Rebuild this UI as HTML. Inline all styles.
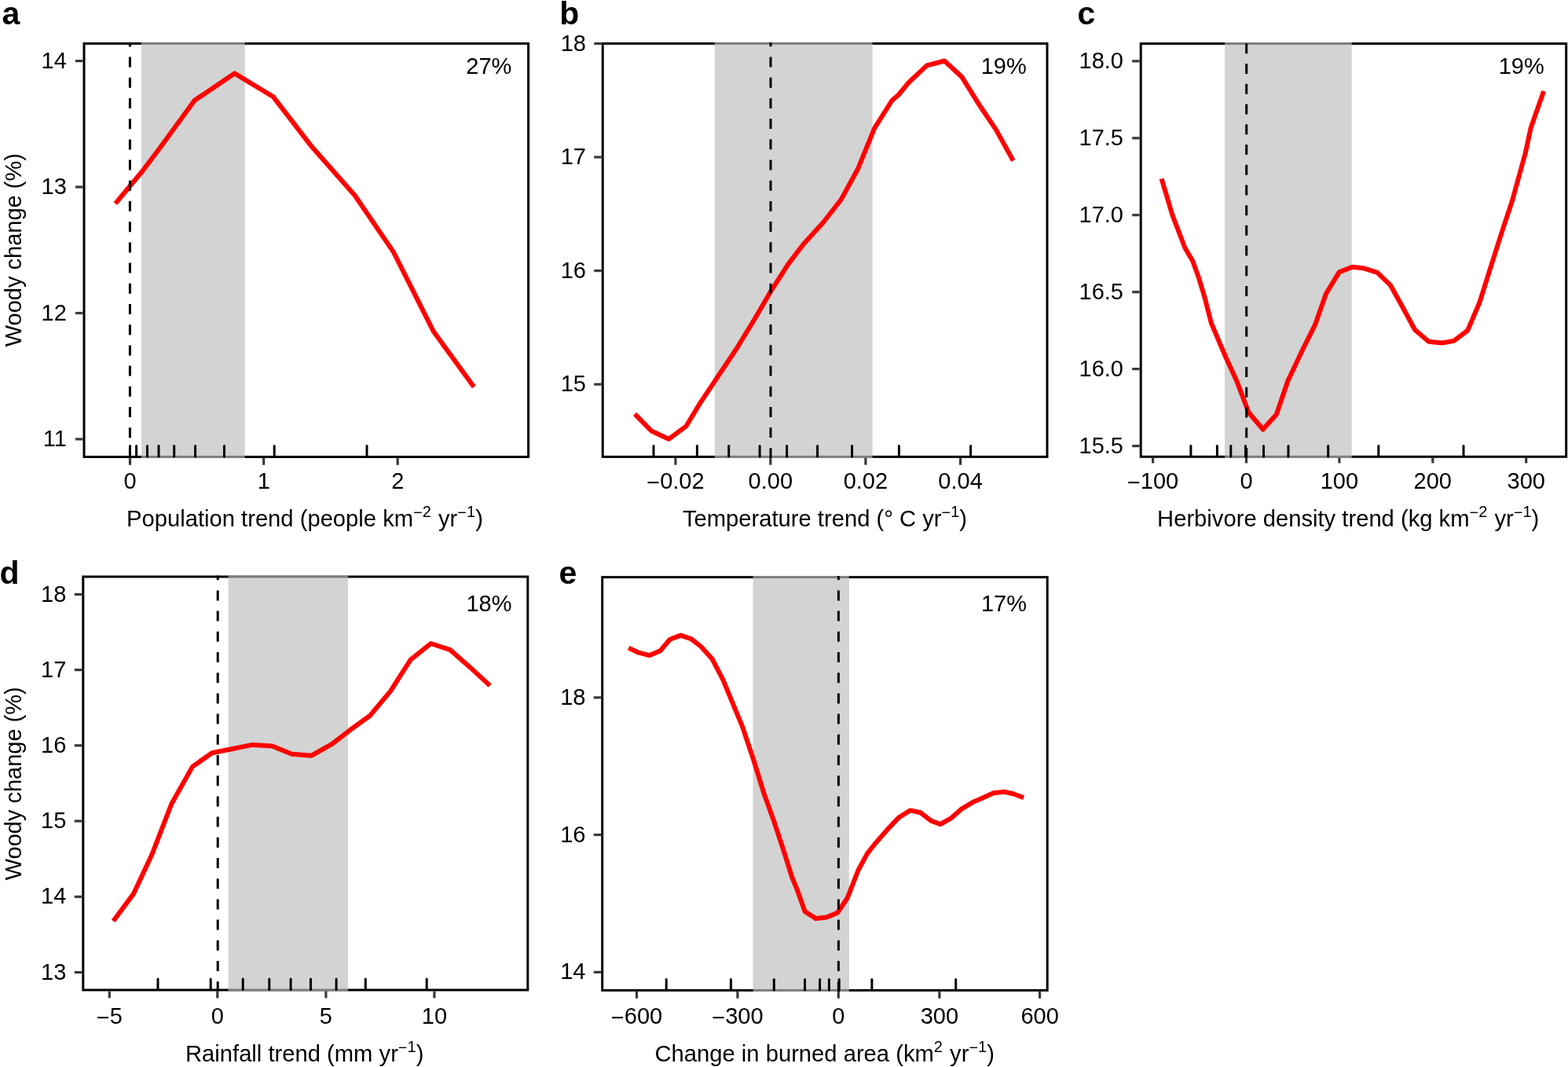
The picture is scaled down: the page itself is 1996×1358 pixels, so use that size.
<!DOCTYPE html><html><head><meta charset="utf-8"><style>html,body{margin:0;padding:0;background:#fff;overflow:hidden;}svg{display:block;}text{font-family:"Liberation Sans",Arial,Helvetica,sans-serif;fill:#000;}</style></head><body>
<svg width="1996" height="1358" viewBox="0 0 1996 1358">
<rect x="0" y="0" width="1996" height="1358" fill="#fff"/>
<g><rect x="107" y="55.4" width="565.6" height="526.1" fill="none" stroke="#000" stroke-width="3"/><rect x="180" y="53.8" width="131.8" height="529.3" fill="rgb(189,189,189)" fill-opacity="0.67"/><line x1="96" y1="77.6" x2="105.5" y2="77.6" stroke="#383838" stroke-width="3.2"/><text x="84.8" y="86.6" font-size="29" text-anchor="end">14</text><line x1="96" y1="238" x2="105.5" y2="238" stroke="#383838" stroke-width="3.2"/><text x="84.8" y="247" font-size="29" text-anchor="end">13</text><line x1="96" y1="398.5" x2="105.5" y2="398.5" stroke="#383838" stroke-width="3.2"/><text x="84.8" y="407.5" font-size="29" text-anchor="end">12</text><line x1="96" y1="558.9" x2="105.5" y2="558.9" stroke="#383838" stroke-width="3.2"/><text x="84.8" y="567.9" font-size="29" text-anchor="end">11</text><line x1="165.5" y1="583" x2="165.5" y2="591.8" stroke="#383838" stroke-width="3.2"/><text x="165.5" y="621.6" font-size="29" text-anchor="middle">0</text><line x1="335.7" y1="583" x2="335.7" y2="591.8" stroke="#383838" stroke-width="3.2"/><text x="335.7" y="621.6" font-size="29" text-anchor="middle">1</text><line x1="506.2" y1="583" x2="506.2" y2="591.8" stroke="#383838" stroke-width="3.2"/><text x="506.2" y="621.6" font-size="29" text-anchor="middle">2</text><polyline points="146.9,259.1 181.5,217.5 203,189 247.7,127.8 298.5,93.4 348,123.3 395.4,184.9 451.7,248.8 500.8,320.6 551.6,421.4 603.3,492.6" fill="none" stroke="#ff0000" stroke-width="6" stroke-linejoin="round" stroke-linecap="butt"/><line x1="165.4" y1="53.9" x2="165.4" y2="583" stroke="#000" stroke-width="3" stroke-linecap="butt" stroke-dasharray="13 13.2" stroke-dashoffset="7.5"/><line x1="165.5" y1="567.6" x2="165.5" y2="581.1" stroke="#000" stroke-width="3" stroke-linecap="round"/><line x1="173.6" y1="567.6" x2="173.6" y2="581.1" stroke="#000" stroke-width="3" stroke-linecap="round"/><line x1="187.5" y1="567.6" x2="187.5" y2="581.1" stroke="#000" stroke-width="3" stroke-linecap="round"/><line x1="202" y1="567.6" x2="202" y2="581.1" stroke="#000" stroke-width="3" stroke-linecap="round"/><line x1="221.7" y1="567.6" x2="221.7" y2="581.1" stroke="#000" stroke-width="3" stroke-linecap="round"/><line x1="248.6" y1="567.6" x2="248.6" y2="581.1" stroke="#000" stroke-width="3" stroke-linecap="round"/><line x1="285.5" y1="567.6" x2="285.5" y2="581.1" stroke="#000" stroke-width="3" stroke-linecap="round"/><line x1="349.2" y1="567.6" x2="349.2" y2="581.1" stroke="#000" stroke-width="3" stroke-linecap="round"/><line x1="467" y1="567.6" x2="467" y2="581.1" stroke="#000" stroke-width="3" stroke-linecap="round"/><text x="651.4" y="93.6" font-size="29" text-anchor="end">27%</text><text x="2.4" y="30.8" font-size="41" font-weight="bold">a</text><text x="161" y="670" font-size="29.2"><tspan>Population trend (people km</tspan><tspan font-size="20" dy="-11">−</tspan><tspan font-size="20" dy="-1">2</tspan><tspan dy="12" dx="1"> yr</tspan><tspan font-size="20" dy="-11">−</tspan><tspan font-size="20" dy="-1">1</tspan><tspan dy="12" dx="0">)</tspan></text><text transform="translate(26.6,318.2) rotate(-90)" font-size="29" text-anchor="middle">Woody change (%)</text></g>
<g><rect x="767.2" y="55.4" width="565.8" height="526" fill="none" stroke="#000" stroke-width="3"/><rect x="909.8" y="53.8" width="200.8" height="529.2" fill="rgb(189,189,189)" fill-opacity="0.67"/><line x1="756.2" y1="55.5" x2="765.7" y2="55.5" stroke="#383838" stroke-width="3.2"/><text x="746" y="64.5" font-size="29" text-anchor="end">18</text><line x1="756.2" y1="200" x2="765.7" y2="200" stroke="#383838" stroke-width="3.2"/><text x="746" y="209" font-size="29" text-anchor="end">17</text><line x1="756.2" y1="344.6" x2="765.7" y2="344.6" stroke="#383838" stroke-width="3.2"/><text x="746" y="353.6" font-size="29" text-anchor="end">16</text><line x1="756.2" y1="489.1" x2="765.7" y2="489.1" stroke="#383838" stroke-width="3.2"/><text x="746" y="498.1" font-size="29" text-anchor="end">15</text><line x1="859.9" y1="582.9" x2="859.9" y2="591.7" stroke="#383838" stroke-width="3.2"/><text x="859.9" y="621.8" font-size="29" text-anchor="middle"><tspan dy="2.3">−</tspan><tspan dy="-2.3">0.02</tspan></text><line x1="980.8" y1="582.9" x2="980.8" y2="591.7" stroke="#383838" stroke-width="3.2"/><text x="980.8" y="621.8" font-size="29" text-anchor="middle">0.00</text><line x1="1101.9" y1="582.9" x2="1101.9" y2="591.7" stroke="#383838" stroke-width="3.2"/><text x="1101.9" y="621.8" font-size="29" text-anchor="middle">0.02</text><line x1="1222.6" y1="582.9" x2="1222.6" y2="591.7" stroke="#383838" stroke-width="3.2"/><text x="1222.6" y="621.8" font-size="29" text-anchor="middle">0.04</text><polyline points="808.1,526.8 829.2,548.5 851.2,558.8 873.5,542.3 891,513.4 913.7,479.4 938.5,442.3 961.1,405.2 979.7,373.2 1003.4,336.1 1023,310.5 1048,283 1070.6,254.1 1091.9,215.3 1113.2,163.1 1135.4,128 1144,120.5 1156,105.8 1179.8,83.4 1202.3,77.5 1224.2,97.7 1247.1,134.3 1267.9,165.1 1289.8,204.5" fill="none" stroke="#ff0000" stroke-width="6" stroke-linejoin="round" stroke-linecap="butt"/><line x1="981" y1="53.9" x2="981" y2="582.9" stroke="#000" stroke-width="3" stroke-linecap="butt" stroke-dasharray="13 13.2" stroke-dashoffset="7.6"/><line x1="832" y1="567.5" x2="832" y2="581" stroke="#000" stroke-width="3" stroke-linecap="round"/><line x1="887.4" y1="567.5" x2="887.4" y2="581" stroke="#000" stroke-width="3" stroke-linecap="round"/><line x1="927.7" y1="567.5" x2="927.7" y2="581" stroke="#000" stroke-width="3" stroke-linecap="round"/><line x1="967.1" y1="567.5" x2="967.1" y2="581" stroke="#000" stroke-width="3" stroke-linecap="round"/><line x1="1001.6" y1="567.5" x2="1001.6" y2="581" stroke="#000" stroke-width="3" stroke-linecap="round"/><line x1="1040.6" y1="567.5" x2="1040.6" y2="581" stroke="#000" stroke-width="3" stroke-linecap="round"/><line x1="1084.6" y1="567.5" x2="1084.6" y2="581" stroke="#000" stroke-width="3" stroke-linecap="round"/><line x1="1144.4" y1="567.5" x2="1144.4" y2="581" stroke="#000" stroke-width="3" stroke-linecap="round"/><line x1="1235.6" y1="567.5" x2="1235.6" y2="581" stroke="#000" stroke-width="3" stroke-linecap="round"/><text x="1306.7" y="93.6" font-size="29" text-anchor="end">19%</text><text x="712.2" y="31.1" font-size="41" font-weight="bold">b</text><text x="868.9" y="670" font-size="29.2"><tspan>Temperature trend (° C yr</tspan><tspan font-size="20" dy="-11">−</tspan><tspan font-size="20" dy="-1">1</tspan><tspan dy="12" dx="0">)</tspan></text></g>
<g><rect x="1452.2" y="55.5" width="541.5" height="525.8" fill="none" stroke="#000" stroke-width="3"/><rect x="1559" y="53.9" width="161.7" height="529" fill="rgb(189,189,189)" fill-opacity="0.67"/><line x1="1441.2" y1="77.8" x2="1450.7" y2="77.8" stroke="#383838" stroke-width="3.2"/><text x="1430" y="86.8" font-size="29" text-anchor="end">18.0</text><line x1="1441.2" y1="175.8" x2="1450.7" y2="175.8" stroke="#383838" stroke-width="3.2"/><text x="1430" y="184.8" font-size="29" text-anchor="end">17.5</text><line x1="1441.2" y1="273.7" x2="1450.7" y2="273.7" stroke="#383838" stroke-width="3.2"/><text x="1430" y="282.7" font-size="29" text-anchor="end">17.0</text><line x1="1441.2" y1="371.7" x2="1450.7" y2="371.7" stroke="#383838" stroke-width="3.2"/><text x="1430" y="380.7" font-size="29" text-anchor="end">16.5</text><line x1="1441.2" y1="469.6" x2="1450.7" y2="469.6" stroke="#383838" stroke-width="3.2"/><text x="1430" y="478.6" font-size="29" text-anchor="end">16.0</text><line x1="1441.2" y1="567.6" x2="1450.7" y2="567.6" stroke="#383838" stroke-width="3.2"/><text x="1430" y="576.6" font-size="29" text-anchor="end">15.5</text><line x1="1467.6" y1="582.8" x2="1467.6" y2="589.5" stroke="#383838" stroke-width="3.2"/><text x="1467.6" y="621.8" font-size="29" text-anchor="middle"><tspan dy="2.3">−</tspan><tspan dy="-2.3">100</tspan></text><line x1="1586.5" y1="582.8" x2="1586.5" y2="589.5" stroke="#383838" stroke-width="3.2"/><text x="1586.5" y="621.8" font-size="29" text-anchor="middle">0</text><line x1="1704.9" y1="582.8" x2="1704.9" y2="589.5" stroke="#383838" stroke-width="3.2"/><text x="1704.9" y="621.8" font-size="29" text-anchor="middle">100</text><line x1="1823.8" y1="582.8" x2="1823.8" y2="589.5" stroke="#383838" stroke-width="3.2"/><text x="1823.8" y="621.8" font-size="29" text-anchor="middle">200</text><line x1="1942.7" y1="582.8" x2="1942.7" y2="589.5" stroke="#383838" stroke-width="3.2"/><text x="1942.7" y="621.8" font-size="29" text-anchor="middle">300</text><polyline points="1478.6,227.5 1492.5,274 1508.3,315.2 1518.4,332.5 1526.1,354 1533.1,377 1542,411.5 1560.5,455 1574.2,484.8 1589.5,525 1607.7,546.5 1624.8,527.5 1639.5,484.5 1658.1,445.2 1674,413.4 1688,373.8 1704.7,346.4 1721.5,339.8 1736.6,341.6 1753.3,346.9 1770.1,363.2 1784.3,388.8 1801.1,419.7 1818.7,434.7 1835.5,436.5 1850.6,433.9 1868.2,420.6 1883.3,385.3 1899.2,334.9 1913.3,290.7 1924.8,256.2 1941.9,194.3 1948.5,163.3 1965.1,115.9" fill="none" stroke="#ff0000" stroke-width="6" stroke-linejoin="round" stroke-linecap="butt"/><line x1="1586.7" y1="54" x2="1586.7" y2="582.8" stroke="#000" stroke-width="3" stroke-linecap="butt" stroke-dasharray="13 12.73" stroke-dashoffset="24.43"/><line x1="1515.9" y1="567.4" x2="1515.9" y2="580.9" stroke="#000" stroke-width="3" stroke-linecap="round"/><line x1="1549.4" y1="567.4" x2="1549.4" y2="580.9" stroke="#000" stroke-width="3" stroke-linecap="round"/><line x1="1566.8" y1="567.4" x2="1566.8" y2="580.9" stroke="#000" stroke-width="3" stroke-linecap="round"/><line x1="1585.5" y1="567.4" x2="1585.5" y2="580.9" stroke="#000" stroke-width="3" stroke-linecap="round"/><line x1="1608.5" y1="567.4" x2="1608.5" y2="580.9" stroke="#000" stroke-width="3" stroke-linecap="round"/><line x1="1640" y1="567.4" x2="1640" y2="580.9" stroke="#000" stroke-width="3" stroke-linecap="round"/><line x1="1690.7" y1="567.4" x2="1690.7" y2="580.9" stroke="#000" stroke-width="3" stroke-linecap="round"/><line x1="1754.8" y1="567.4" x2="1754.8" y2="580.9" stroke="#000" stroke-width="3" stroke-linecap="round"/><line x1="1863" y1="567.4" x2="1863" y2="580.9" stroke="#000" stroke-width="3" stroke-linecap="round"/><text x="1965.7" y="93.6" font-size="29" text-anchor="end">19%</text><text x="1371.4" y="30.8" font-size="41" font-weight="bold">c</text><text x="1473.1" y="670.4" font-size="29.2"><tspan>Herbivore density trend (kg km</tspan><tspan font-size="20" dy="-11">−</tspan><tspan font-size="20" dy="-1">2</tspan><tspan dy="12" dx="1"> yr</tspan><tspan font-size="20" dy="-11">−</tspan><tspan font-size="20" dy="-1">1</tspan><tspan dy="12" dx="0">)</tspan></text></g>
<g><rect x="105.8" y="734" width="566" height="526" fill="none" stroke="#000" stroke-width="3"/><rect x="290.6" y="732.4" width="152.4" height="529.2" fill="rgb(189,189,189)" fill-opacity="0.67"/><line x1="94.8" y1="756.5" x2="104.3" y2="756.5" stroke="#383838" stroke-width="3.2"/><text x="84.3" y="765.5" font-size="29" text-anchor="end">18</text><line x1="94.8" y1="852.6" x2="104.3" y2="852.6" stroke="#383838" stroke-width="3.2"/><text x="84.3" y="861.6" font-size="29" text-anchor="end">17</text><line x1="94.8" y1="948.8" x2="104.3" y2="948.8" stroke="#383838" stroke-width="3.2"/><text x="84.3" y="957.8" font-size="29" text-anchor="end">16</text><line x1="94.8" y1="1045" x2="104.3" y2="1045" stroke="#383838" stroke-width="3.2"/><text x="84.3" y="1054" font-size="29" text-anchor="end">15</text><line x1="94.8" y1="1141.3" x2="104.3" y2="1141.3" stroke="#383838" stroke-width="3.2"/><text x="84.3" y="1150.3" font-size="29" text-anchor="end">14</text><line x1="94.8" y1="1237.5" x2="104.3" y2="1237.5" stroke="#383838" stroke-width="3.2"/><text x="84.3" y="1246.5" font-size="29" text-anchor="end">13</text><line x1="139.3" y1="1261.5" x2="139.3" y2="1270.3" stroke="#383838" stroke-width="3.2"/><text x="139.3" y="1302.6" font-size="29" text-anchor="middle"><tspan dy="2.3">−</tspan><tspan dy="-2.3">5</tspan></text><line x1="276.8" y1="1261.5" x2="276.8" y2="1270.3" stroke="#383838" stroke-width="3.2"/><text x="276.8" y="1302.6" font-size="29" text-anchor="middle">0</text><line x1="414.9" y1="1261.5" x2="414.9" y2="1270.3" stroke="#383838" stroke-width="3.2"/><text x="414.9" y="1302.6" font-size="29" text-anchor="middle">5</text><line x1="552.9" y1="1261.5" x2="552.9" y2="1270.3" stroke="#383838" stroke-width="3.2"/><text x="552.9" y="1302.6" font-size="29" text-anchor="middle">10</text><polyline points="144.2,1172.3 169.8,1137.9 193.3,1087.8 218.4,1023 244.9,975.9 269.9,958.2 295,953.2 321.5,947.9 346.5,949.4 371.5,959.7 396.6,961.7 422.7,946.8 445.4,929.3 471.1,910.7 496.9,879.8 522.7,839.6 548.5,819 573.2,827.2 597.9,848.9 623.7,872.6" fill="none" stroke="#ff0000" stroke-width="6" stroke-linejoin="round" stroke-linecap="butt"/><line x1="277.2" y1="732.5" x2="277.2" y2="1261.5" stroke="#000" stroke-width="3" stroke-linecap="butt" stroke-dasharray="13 13.2" stroke-dashoffset="7.3"/><line x1="201" y1="1246.1" x2="201" y2="1259.6" stroke="#000" stroke-width="3" stroke-linecap="round"/><line x1="268.2" y1="1246.1" x2="268.2" y2="1259.6" stroke="#000" stroke-width="3" stroke-linecap="round"/><line x1="309.2" y1="1246.1" x2="309.2" y2="1259.6" stroke="#000" stroke-width="3" stroke-linecap="round"/><line x1="342.8" y1="1246.1" x2="342.8" y2="1259.6" stroke="#000" stroke-width="3" stroke-linecap="round"/><line x1="370.1" y1="1246.1" x2="370.1" y2="1259.6" stroke="#000" stroke-width="3" stroke-linecap="round"/><line x1="395.5" y1="1246.1" x2="395.5" y2="1259.6" stroke="#000" stroke-width="3" stroke-linecap="round"/><line x1="428.1" y1="1246.1" x2="428.1" y2="1259.6" stroke="#000" stroke-width="3" stroke-linecap="round"/><line x1="465.3" y1="1246.1" x2="465.3" y2="1259.6" stroke="#000" stroke-width="3" stroke-linecap="round"/><line x1="543.2" y1="1246.1" x2="543.2" y2="1259.6" stroke="#000" stroke-width="3" stroke-linecap="round"/><text x="651.5" y="778.2" font-size="29" text-anchor="end">18%</text><text x="-0.5" y="743" font-size="41" font-weight="bold">d</text><text x="236" y="1350.5" font-size="29.2"><tspan>Rainfall trend (mm yr</tspan><tspan font-size="20" dy="-11">−</tspan><tspan font-size="20" dy="-1">1</tspan><tspan dy="12" dx="0">)</tspan></text><text transform="translate(26.6,997.3) rotate(-90)" font-size="29" text-anchor="middle">Woody change (%)</text></g>
<g><rect x="766.7" y="734.6" width="566.5" height="525.8" fill="none" stroke="#000" stroke-width="3"/><rect x="958.5" y="733" width="122.4" height="529" fill="rgb(189,189,189)" fill-opacity="0.67"/><line x1="755.7" y1="887.8" x2="765.2" y2="887.8" stroke="#383838" stroke-width="3.2"/><text x="745.5" y="896.8" font-size="29" text-anchor="end">18</text><line x1="755.7" y1="1062.5" x2="765.2" y2="1062.5" stroke="#383838" stroke-width="3.2"/><text x="745.5" y="1071.5" font-size="29" text-anchor="end">16</text><line x1="755.7" y1="1237.3" x2="765.2" y2="1237.3" stroke="#383838" stroke-width="3.2"/><text x="745.5" y="1246.3" font-size="29" text-anchor="end">14</text><line x1="810.5" y1="1261.9" x2="810.5" y2="1270.7" stroke="#383838" stroke-width="3.2"/><text x="810.5" y="1302.6" font-size="29" text-anchor="middle"><tspan dy="2.3">−</tspan><tspan dy="-2.3">600</tspan></text><line x1="938.9" y1="1261.9" x2="938.9" y2="1270.7" stroke="#383838" stroke-width="3.2"/><text x="938.9" y="1302.6" font-size="29" text-anchor="middle"><tspan dy="2.3">−</tspan><tspan dy="-2.3">300</tspan></text><line x1="1067.3" y1="1261.9" x2="1067.3" y2="1270.7" stroke="#383838" stroke-width="3.2"/><text x="1067.3" y="1302.6" font-size="29" text-anchor="middle">0</text><line x1="1195.9" y1="1261.9" x2="1195.9" y2="1270.7" stroke="#383838" stroke-width="3.2"/><text x="1195.9" y="1302.6" font-size="29" text-anchor="middle">300</text><line x1="1323.6" y1="1261.9" x2="1323.6" y2="1270.7" stroke="#383838" stroke-width="3.2"/><text x="1323.6" y="1302.6" font-size="29" text-anchor="middle">600</text><polyline points="800.2,824.6 813.1,830.7 826.5,834.2 840.5,828.2 852.8,813.8 866.4,808.6 879.8,813.1 892.4,823 906.4,838.4 920.2,864.8 945.1,924.9 959.5,968 972.5,1010 985.1,1044.9 997,1081 1008,1116 1014.4,1131.5 1024.7,1160.3 1038.7,1169.1 1052,1167.6 1066,1161.7 1078.5,1143.3 1092.5,1107.5 1104,1086.4 1113.3,1074.5 1131.9,1053.3 1144.5,1040.2 1158.7,1031.4 1171.9,1034.3 1185.2,1044.6 1197,1049 1210.2,1041.7 1223.5,1029.9 1238.2,1021.1 1251.5,1015.2 1264.7,1009.3 1278,1007.8 1289.7,1010.2 1303,1015.2" fill="none" stroke="#ff0000" stroke-width="6" stroke-linejoin="round" stroke-linecap="butt"/><line x1="1067.4" y1="733.1" x2="1067.4" y2="1261.9" stroke="#000" stroke-width="3" stroke-linecap="butt" stroke-dasharray="13 13.2" stroke-dashoffset="7.9"/><line x1="848.2" y1="1246.5" x2="848.2" y2="1260" stroke="#000" stroke-width="3" stroke-linecap="round"/><line x1="930.4" y1="1246.5" x2="930.4" y2="1260" stroke="#000" stroke-width="3" stroke-linecap="round"/><line x1="985.3" y1="1246.5" x2="985.3" y2="1260" stroke="#000" stroke-width="3" stroke-linecap="round"/><line x1="1024.5" y1="1246.5" x2="1024.5" y2="1260" stroke="#000" stroke-width="3" stroke-linecap="round"/><line x1="1043.6" y1="1246.5" x2="1043.6" y2="1260" stroke="#000" stroke-width="3" stroke-linecap="round"/><line x1="1055.4" y1="1246.5" x2="1055.4" y2="1260" stroke="#000" stroke-width="3" stroke-linecap="round"/><line x1="1068.2" y1="1246.5" x2="1068.2" y2="1260" stroke="#000" stroke-width="3" stroke-linecap="round"/><line x1="1109.9" y1="1246.5" x2="1109.9" y2="1260" stroke="#000" stroke-width="3" stroke-linecap="round"/><line x1="1216.7" y1="1246.5" x2="1216.7" y2="1260" stroke="#000" stroke-width="3" stroke-linecap="round"/><text x="1307" y="778.4" font-size="29" text-anchor="end">17%</text><text x="711.5" y="743" font-size="41" font-weight="bold">e</text><text x="833.5" y="1350.6" font-size="29.2"><tspan>Change in burned area (km</tspan><tspan font-size="20" dy="-12">2</tspan><tspan dy="12" dx="1"> yr</tspan><tspan font-size="20" dy="-11">−</tspan><tspan font-size="20" dy="-1">1</tspan><tspan dy="12" dx="0">)</tspan></text></g>
</svg></body></html>
